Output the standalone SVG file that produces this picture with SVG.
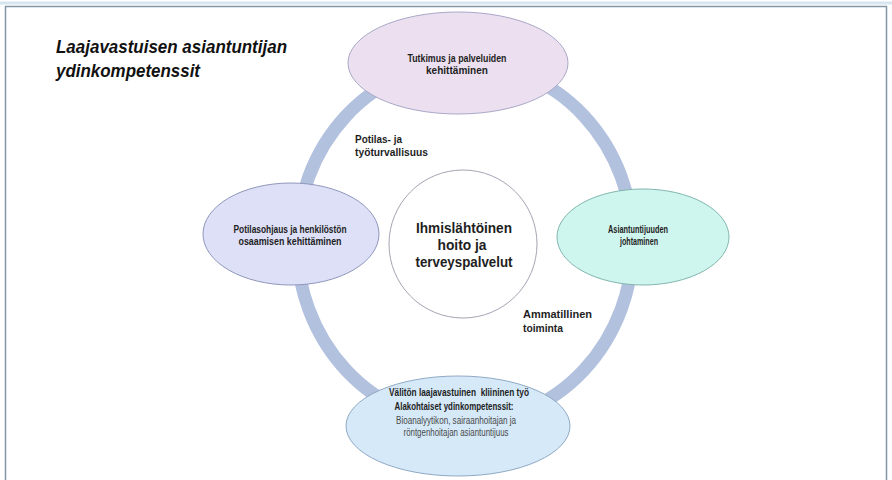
<svg xmlns="http://www.w3.org/2000/svg" width="892" height="480" viewBox="0 0 892 480">
  <style>
    .b { font-family: "Liberation Sans", Arial, sans-serif; font-weight: bold; fill: #1e1e1e; text-anchor: middle; }
    .r { font-family: "Liberation Sans", Arial, sans-serif; fill: #4a4a4a; text-anchor: middle; }
    .lbl { font-family: "Liberation Sans", Arial, sans-serif; font-weight: bold; fill: #1e1e1e; font-size: 10.5px; }
    .title { font-family: "Liberation Sans", Arial, sans-serif; font-weight: bold; font-style: italic; fill: #111; font-size: 18px; }
    .node { stroke-width: 1; }
  </style>
  <rect x="0" y="0" width="892" height="480" fill="#ffffff"/>
  <line x1="0" y1="3" x2="892" y2="3" stroke="#d6e6ef" stroke-width="3"/>
  <rect x="5.5" y="6.5" width="881" height="490" fill="none" stroke="#8396a8" stroke-width="1.5"/>

  <g id="title">
    <text class="title" x="56" y="53" textLength="231" lengthAdjust="spacingAndGlyphs">Laajavastuisen asiantuntijan</text>
    <text class="title" x="56" y="77" textLength="144" lengthAdjust="spacingAndGlyphs">ydinkompetenssit</text>
  </g>

  <g id="connectors">
    <ellipse cx="465" cy="243" rx="168" ry="180" fill="none" stroke="#b2c1de" stroke-width="13"/>
  </g>

  <g id="labels">
    <text class="lbl" x="355" y="143" textLength="47" lengthAdjust="spacingAndGlyphs">Potilas- ja</text>
    <text class="lbl" x="355" y="156" textLength="73" lengthAdjust="spacingAndGlyphs">työturvallisuus</text>
    <text class="lbl" x="523" y="318" textLength="69" lengthAdjust="spacingAndGlyphs">Ammatillinen</text>
    <text class="lbl" x="523" y="332" textLength="40" lengthAdjust="spacingAndGlyphs">toiminta</text>
  </g>

  <g id="node-center">
    <ellipse class="node" cx="463" cy="244" rx="74" ry="74" fill="#ffffff" stroke="#a4a4b4"/>
    <text class="b" x="464" y="233" font-size="15" textLength="96" lengthAdjust="spacingAndGlyphs">Ihmislähtöinen</text>
    <text class="b" x="462" y="250" font-size="15" textLength="49" lengthAdjust="spacingAndGlyphs">hoito ja</text>
    <text class="b" x="464" y="267" font-size="15" textLength="97" lengthAdjust="spacingAndGlyphs">terveyspalvelut</text>
  </g>

  <g id="node-top">
    <ellipse class="node" cx="458" cy="63" rx="110" ry="51" fill="#ece0f0" stroke="#a9a8c8"/>
    <text class="b" x="457" y="62" font-size="10" textLength="99" lengthAdjust="spacingAndGlyphs">Tutkimus ja palveluiden</text>
    <text class="b" x="457" y="74" font-size="10" textLength="62" lengthAdjust="spacingAndGlyphs">kehittäminen</text>
  </g>

  <g id="node-left">
    <ellipse class="node" cx="291" cy="234" rx="88" ry="51" fill="#dde0f7" stroke="#8f97bb"/>
    <text class="b" x="290" y="233" font-size="10" textLength="113" lengthAdjust="spacingAndGlyphs">Potilasohjaus ja henkilöstön</text>
    <text class="b" x="290" y="245" font-size="10" textLength="103" lengthAdjust="spacingAndGlyphs">osaamisen kehittäminen</text>
  </g>

  <g id="node-right">
    <ellipse class="node" cx="643" cy="237" rx="86" ry="48" fill="#cef5ee" stroke="#82b6b0"/>
    <text class="b" x="638" y="233" font-size="10" textLength="60" lengthAdjust="spacingAndGlyphs">Asiantuntijuuden</text>
    <text class="b" x="639" y="245" font-size="10" textLength="38" lengthAdjust="spacingAndGlyphs">johtaminen</text>
  </g>

  <g id="node-bottom">
    <ellipse class="node" cx="458" cy="426" rx="112" ry="50" fill="#d5e9f8" stroke="#90a9c4"/>
    <text class="b" x="459" y="396" font-size="10" textLength="140" lengthAdjust="spacingAndGlyphs" style="white-space: pre">Välitön laajavastuinen  kliininen työ</text>
    <text class="b" x="454" y="410" font-size="10" textLength="119" lengthAdjust="spacingAndGlyphs">Alakohtaiset ydinkompetenssit:</text>
    <text class="r" x="456" y="424" font-size="10" textLength="120" lengthAdjust="spacingAndGlyphs">Bioanalyytikon, sairaanhoitajan ja</text>
    <text class="r" x="456" y="436" font-size="10" textLength="105" lengthAdjust="spacingAndGlyphs">röntgenhoitajan asiantuntijuus</text>
  </g>
</svg>
